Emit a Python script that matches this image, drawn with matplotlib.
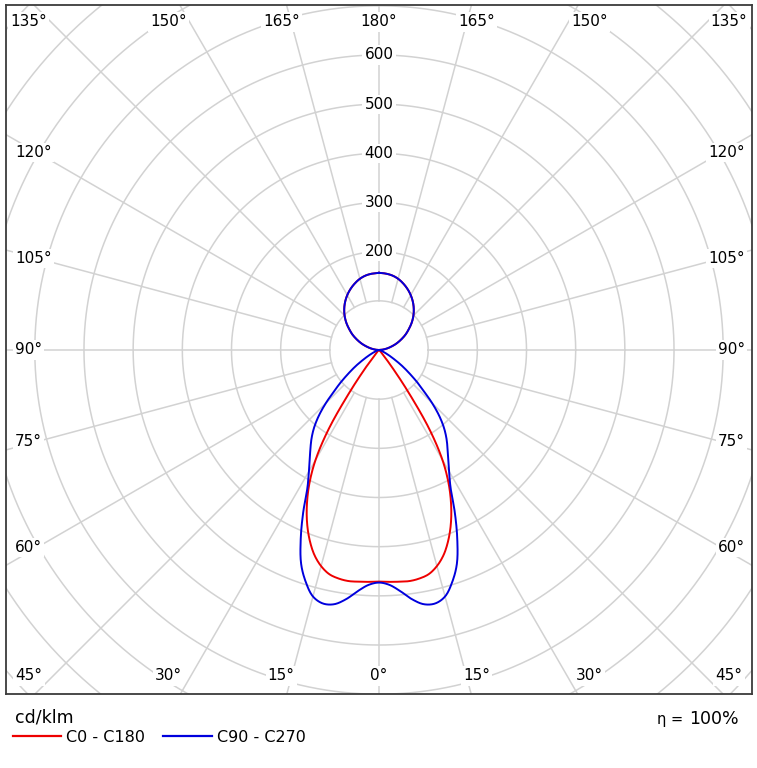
import numpy as np
import matplotlib.pyplot as plt
from matplotlib.lines import Line2D

# luminous intensity distribution, cd/klm
gamma = [0, 2.5, 5, 7.5, 10, 12.5, 15, 17.5, 20, 22.5, 25, 27.5, 30, 32.5, 35, 37.5,
         40, 42.5, 45, 47.5, 50, 55, 60, 65, 70, 80, 90, 95, 100, 105, 110, 115, 120,
         125, 130, 135, 140, 145, 150, 155, 160, 165, 170, 175, 180]
c0_c180 = [471, 472, 473, 474, 472, 467, 455, 437, 412, 382, 347, 307, 258, 190, 100, 38,
           12, 7, 4, 3, 2, 1, 1, 0, 0, 0, 0, 6, 15, 25, 37, 49, 62,
           74, 87, 99, 110, 120, 129, 137, 144, 150, 154, 156, 157]
c90_c270 = [473, 478, 492, 511, 525, 528, 519, 495, 463, 416, 365, 315, 285, 262, 243, 225,
            205, 181, 153, 123, 100, 60, 30, 14, 6, 2, 0, 6, 15, 25, 37, 49, 62,
            74, 87, 99, 110, 120, 129, 137, 144, 150, 154, 156, 157]

radius_labels = [200, 300, 400, 500, 600]
bottom_angles = [0, 15, 30, 45]
side_angles = [60, 75, 90, 105, 120]
top_angles = [135, 150, 165, 180]

W, H = 757, 768
cx, cy = 379, 350      # centre of the diagram in pixels
k = 0.4917             # pixels per cd/klm
grid_col = "#d2d2d2"


def smooth_xy(xs, ys, n=10):
    # centripetal catmull-rom through the points, only for drawing a smooth line
    P = np.column_stack([xs, ys])
    keep = np.r_[True, np.linalg.norm(np.diff(P, axis=0), axis=1) > 1e-6]
    P = P[keep]
    P = np.vstack([2 * P[0] - P[1], P, 2 * P[-1] - P[-2]])
    out = []
    for i in range(1, len(P) - 2):
        p0, p1, p2, p3 = P[i - 1], P[i], P[i + 1], P[i + 2]
        t0 = 0.0
        t1 = t0 + np.linalg.norm(p1 - p0) ** 0.5
        t2 = t1 + np.linalg.norm(p2 - p1) ** 0.5
        t3 = t2 + np.linalg.norm(p3 - p2) ** 0.5
        t = np.linspace(t1, t2, n, endpoint=False)[:, None]
        a1 = (t1 - t) / (t1 - t0) * p0 + (t - t0) / (t1 - t0) * p1
        a2 = (t2 - t) / (t2 - t1) * p1 + (t - t1) / (t2 - t1) * p2
        a3 = (t3 - t) / (t3 - t2) * p2 + (t - t2) / (t3 - t2) * p3
        b1 = (t2 - t) / (t2 - t0) * a1 + (t - t0) / (t2 - t0) * a2
        b2 = (t3 - t) / (t3 - t1) * a2 + (t - t1) / (t3 - t1) * a3
        out.append((t2 - t) / (t2 - t1) * b1 + (t - t1) / (t2 - t1) * b2)
    out.append(P[-2][None, :])
    out = np.vstack(out)
    return out[:, 0], out[:, 1]


fig = plt.figure(figsize=(W / 100, H / 100), dpi=100)
ax = fig.add_axes([6 / W, 1 - 694 / H, 746 / W, 689 / H])
ax.set_xlim((6 - cx) / k, (752 - cx) / k)
ax.set_ylim(-(694 - cy) / k, (cy - 5) / k)
ax.set_xticks([])
ax.set_yticks([])
for s in ax.spines.values():
    s.set_color("#3c3c3c")
    s.set_linewidth(1.3)

# grid circles and radial lines
t = np.linspace(0, 2 * np.pi, 500)
for r in range(100, 1100, 100):
    ax.plot(r * np.cos(t), r * np.sin(t), color=grid_col, lw=1.1, zorder=1)
for a in range(0, 360, 15):
    ar = np.radians(a)
    ax.plot([100 * np.sin(ar), 1200 * np.sin(ar)], [-100 * np.cos(ar), -1200 * np.cos(ar)],
            color=grid_col, lw=1.1, zorder=1)

box = dict(facecolor="white", edgecolor="none", pad=1.5)
for r in radius_labels:
    ax.text(0, r, str(r), ha="center", va="center", fontsize=11, bbox=box, zorder=3)

# angle labels around the frame
row_bottom = -(676 - cy) / k
row_top = (cy - 22) / k
for a in bottom_angles + top_angles:
    ang = a if a <= 90 else 180 - a
    y = row_bottom if a <= 90 else row_top
    x = min(742 * np.tan(np.radians(ang)), 712)
    sides = [1] if ang == 0 else [1, -1]
    for sgn in sides:
        ax.text(sgn * x, y, f"{a}°", ha="center", va="center", fontsize=11, bbox=box, zorder=3)
for a in side_angles:
    y = -695 / np.tan(np.radians(a)) if a != 90 else 0
    ax.text((745 - cx) / k, y, f"{a}°", ha="right", va="center", fontsize=11, bbox=box, zorder=3)
    ax.text((15 - cx) / k, y, f"{a}°", ha="left", va="center", fontsize=11, bbox=box, zorder=3)

# curves: right half C0 / C90, left half mirrored C180 / C270
g = np.radians(gamma)
for vals, col in [(c0_c180, "#ee0000"), (c90_c270, "#0000dd")]:
    v = np.array(vals, dtype=float)
    xs = np.concatenate([-(v * np.sin(g))[::-1], v * np.sin(g)])
    ys = np.concatenate([(-v * np.cos(g))[::-1], -v * np.cos(g)])
    sx, sy = smooth_xy(xs, ys)
    ax.plot(sx, sy, color=col, lw=1.4, zorder=4)

# legend and efficiency below the frame
fig.text(15 / W, 1 - 717 / H, "cd/klm", va="center", fontsize=12.5)
fig.add_artist(Line2D([13 / W, 61 / W], [1 - 736 / H] * 2, color="#ee0000", lw=1.6,
                      transform=fig.transFigure))
fig.text(66 / W, 1 - 737 / H, "C0 - C180", va="center", fontsize=11.5)
fig.add_artist(Line2D([163 / W, 212 / W], [1 - 736 / H] * 2, color="#0000dd", lw=1.6,
                      transform=fig.transFigure))
fig.text(217 / W, 1 - 737 / H, "C90 - C270", va="center", fontsize=11.5)
fig.text(739 / W, 1 - 724 / H, "100%", ha="right", va="baseline", fontsize=12.5)
fig.text(683 / W, 1 - 724 / H, "η =", ha="right", va="baseline", fontsize=10.5)

fig.savefig("out.png", dpi=100, facecolor="white")
